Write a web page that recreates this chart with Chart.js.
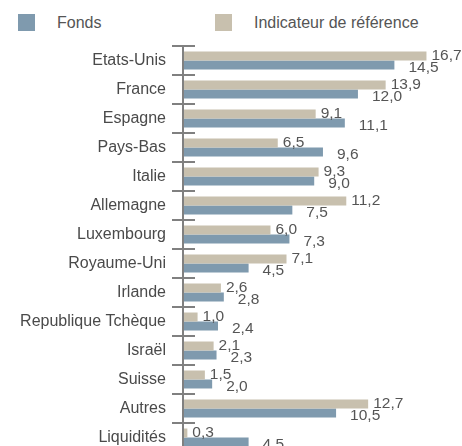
<!DOCTYPE html>
<html>
<head>
<meta charset="utf-8">
<script src="https://cdn.jsdelivr.net/npm/chart.js@4.4.1/dist/chart.umd.min.js"></script>
<style>
  html, body { margin: 0; padding: 0; background: #fff; overflow: hidden; }
  body { width: 462px; height: 446px; position: relative; font-family: "Liberation Sans", Arial, sans-serif; }
  .legend { position: absolute; top: 14px; height: 17px; display: flex; align-items: center; color: #555; font-size: 16px; }
  .legend span.box { width: 17px; height: 17px; display: inline-block; margin-right: 22px; }
  #allocChart { position: absolute; left: 0; top: 0; }
</style>
</head>
<body>
<div class="legend" style="left:18px"><span class="box" style="background:#7f9aae"></span>Fonds</div>
<div class="legend" style="left:215px"><span class="box" style="background:#c8c0ae"></span>Indicateur de référence</div>
<canvas id="allocChart" width="462" height="452"></canvas>
<script>
const countries = ['Etats-Unis', 'France', 'Espagne', 'Pays-Bas', 'Italie', 'Allemagne', 'Luxembourg',
    'Royaume-Uni', 'Irlande', 'Republique Tchèque', 'Israël', 'Suisse', 'Autres', 'Liquidités'];
const fonds = [14.5, 12.0, 11.1, 9.6, 9.0, 7.5, 7.3, 4.5, 2.8, 2.4, 2.3, 2.0, 10.5, 4.5];
const indicateur = [16.7, 13.9, 9.1, 6.5, 9.3, 11.2, 6.0, 7.1, 2.6, 1.0, 2.1, 1.5, 12.7, 0.3];

const fmt = v => v.toFixed(1).replace('.', ',');

// axe vertical + petites graduations entre les catégories, puis étiquettes de valeurs
const axisPlugin = {
    id: 'axisMarks',
    afterDatasetsDraw(chart) {
        const ctx = chart.ctx;
        const y = chart.scales.y;
        const x0 = chart.chartArea.left;
        const step = y.getPixelForValue(1) - y.getPixelForValue(0);
        ctx.save();
        ctx.strokeStyle = '#808080';
        ctx.lineWidth = 2;
        const top = y.getPixelForValue(0) - step / 2;
        ctx.beginPath();
        ctx.moveTo(x0, top);
        ctx.lineTo(x0, chart.height);
        ctx.stroke();
        for (let i = 0; i <= countries.length; i++) {
            const py = Math.round(y.getPixelForValue(i) - step / 2);
            ctx.beginPath();
            ctx.moveTo(x0 - 11, py);
            ctx.lineTo(x0 + 12, py);
            ctx.stroke();
        }
        ctx.restore();
    },
    afterDraw(chart) {
        const ctx = chart.ctx;
        ctx.save();
        ctx.font = '15.5px "Liberation Sans", Arial, sans-serif';
        ctx.fillStyle = '#555';
        ctx.textAlign = 'left';
        ctx.textBaseline = 'middle';
        chart.getDatasetMeta(0).data.forEach((bar, i) => {
            ctx.fillText(fmt(indicateur[i]), bar.x + 5, bar.y);
        });
        chart.getDatasetMeta(1).data.forEach((bar, i) => {
            ctx.fillText(fmt(fonds[i]), bar.x + 14, bar.y + 3);
        });
        ctx.restore();
    }
};

new Chart(document.getElementById('allocChart'), {
    type: 'bar',
    data: {
        labels: countries,
        datasets: [
            { label: 'Indicateur de référence', data: indicateur, backgroundColor: '#c8c0ae' },
            { label: 'Fonds', data: fonds, backgroundColor: '#7f9aae' }
        ]
    },
    options: {
        indexAxis: 'y',
        responsive: false,
        animation: false,
        layout: { padding: { top: 46, right: 2, bottom: 0, left: 0 } },
        datasets: { bar: { categoryPercentage: 0.62, barPercentage: 1 } },
        scales: {
            x: { display: false, min: 0, max: 19 },
            y: {
                grid: { display: false, drawTicks: false },
                border: { display: false },
                ticks: {
                    padding: 17,
                    color: '#4a4a4a',
                    font: { family: '"Liberation Sans", Arial, sans-serif', size: 16 }
                },
                afterFit: s => {
                    s.width = 183;
                    s.paddingTop = 0;
                    s.paddingBottom = 0;
                }
            }
        },
        plugins: { legend: { display: false }, tooltip: { enabled: false } }
    },
    plugins: [axisPlugin]
});
</script>
</body>
</html>
